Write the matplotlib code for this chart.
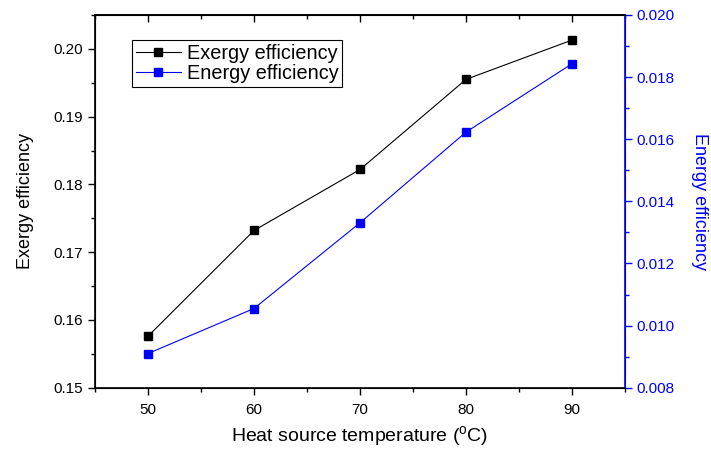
import matplotlib
matplotlib.use("Agg")
import matplotlib.pyplot as plt
from matplotlib.ticker import MultipleLocator

plt.rcParams['font.family'] = ['Liberation Sans', 'DejaVu Sans']

temperature = [50, 60, 70, 80, 90]
exergy_eff = [0.1576, 0.1732, 0.1822, 0.1955, 0.2013]
energy_eff = [0.0091, 0.01055, 0.01331, 0.01623, 0.01843]

fig = plt.figure(figsize=(7.11, 4.54), dpi=100)
ax = fig.add_axes([0.1336, 0.146, 0.7455, 0.821])
ax2 = ax.twinx()

l1, = ax.plot(temperature, exergy_eff, color='black', lw=0.8, marker='s',
              ms=6, mfc='black', mec='black', label='Exergy efficiency')
l2, = ax2.plot(temperature, energy_eff, color='blue', lw=0.8, marker='s',
               ms=6, mfc='blue', mec='blue', label='Energy efficiency')

ax.set_xlim(45, 95)
ax.set_ylim(0.15, 0.205)
ax2.set_ylim(0.008, 0.020)

ax.xaxis.set_major_locator(MultipleLocator(10))
ax.xaxis.set_minor_locator(MultipleLocator(5))
ax.yaxis.set_major_locator(MultipleLocator(0.01))
ax.yaxis.set_minor_locator(MultipleLocator(0.005))
ax.yaxis.set_major_formatter(plt.FormatStrFormatter('%.2f'))
ax2.yaxis.set_major_locator(MultipleLocator(0.002))
ax2.yaxis.set_minor_locator(MultipleLocator(0.001))
ax2.yaxis.set_major_formatter(plt.FormatStrFormatter('%.3f'))

ax.tick_params(axis='both', which='major', direction='out', length=5, width=1,
               labelsize=11, top=False, right=False)
ax.tick_params(axis='both', which='minor', direction='out', length=3, width=1,
               top=False, right=False)
ax.tick_params(axis='x', pad=6)

# top axis: inward ticks, no labels
top = ax.secondary_xaxis('top')
top.xaxis.set_major_locator(MultipleLocator(10))
top.xaxis.set_minor_locator(MultipleLocator(5))
top.tick_params(which='major', direction='in', length=5, width=1, labeltop=False)
top.tick_params(which='minor', direction='in', length=3, width=1)

ax2.tick_params(axis='y', which='major', direction='out', length=5, width=1,
                colors='blue', labelsize=11)
ax2.tick_params(axis='y', which='minor', direction='out', length=3, width=1,
                colors='blue')
ax2.spines['right'].set_color('blue')
ax2.spines['right'].set_linewidth(1.2)

for s in ['left', 'bottom', 'top']:
    ax.spines[s].set_linewidth(1.2)
top.spines['top'].set_linewidth(1.2)

ax.set_xlabel('Heat source temperature ($\\mathregular{^{o}}$C)', fontsize=14, labelpad=5)
ax.set_ylabel('Exergy efficiency', fontsize=13, labelpad=14)
ax2.set_ylabel('Energy efficiency', fontsize=13, color='blue', rotation=270,
               labelpad=24)

leg = ax.legend(handles=[l1, l2], loc='upper left', bbox_to_anchor=(0.07, 0.933),
                fontsize=14.3, frameon=True, fancybox=False, framealpha=1,
                edgecolor='black', handlelength=2.25, handletextpad=0.3,
                borderpad=0.2, labelspacing=0.05, borderaxespad=0)
leg.get_frame().set_linewidth(0.8)

fig.savefig('out.png', dpi=100)
